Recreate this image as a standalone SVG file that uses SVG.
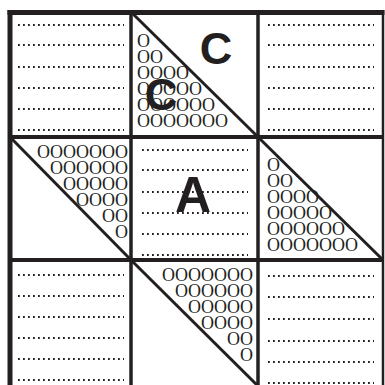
<svg xmlns="http://www.w3.org/2000/svg" width="385" height="385" viewBox="0 0 385 385">
<style>
.dot{stroke:#231f20;stroke-width:1.8;stroke-dasharray:1.8 3.2;fill:none}
.o{font-family:"Liberation Serif","Times New Roman",serif;font-size:18px;fill:#231f20}
.big{font-family:"Liberation Sans",Arial,sans-serif;font-weight:bold;fill:#231f20;text-anchor:middle}
.grid{stroke:#231f20;fill:none}
.diag{stroke:#231f20;stroke-width:3;fill:none}
</style>
<rect width="385" height="385" fill="#fff"/>
<g id="cell-r1c1">
<line class="dot" x1="18" y1="25" x2="124" y2="25"/>
<line class="dot" x1="18" y1="45" x2="124" y2="45"/>
<line class="dot" x1="18" y1="67" x2="124" y2="67"/>
<line class="dot" x1="18" y1="88" x2="124" y2="88"/>
<line class="dot" x1="18" y1="109" x2="124" y2="109"/>
<line class="dot" x1="18" y1="130" x2="124" y2="130"/>
</g>
<g id="cell-r1c2">
<text class="o" x="137" y="47">O</text>
<text class="o" x="137" y="63">OO</text>
<text class="o" x="137" y="79">OOOO</text>
<text class="o" x="137" y="95">OOOOO</text>
<text class="o" x="137" y="111">OOOOOO</text>
<text class="o" x="137" y="127">OOOOOOO</text>
<text class="big" x="216" y="64" font-size="45">C</text>
<text class="big" x="161" y="110" font-size="45">C</text>
</g>
<g id="cell-r1c3">
<line class="dot" x1="268" y1="25" x2="374" y2="25"/>
<line class="dot" x1="268" y1="45" x2="374" y2="45"/>
<line class="dot" x1="268" y1="67" x2="374" y2="67"/>
<line class="dot" x1="268" y1="88" x2="374" y2="88"/>
<line class="dot" x1="268" y1="109" x2="374" y2="109"/>
<line class="dot" x1="268" y1="130" x2="374" y2="130"/>
</g>
<g id="cell-r2c1">
<g text-anchor="end">
<text class="o" x="128" y="158">OOOOOOO</text>
<text class="o" x="128" y="174">OOOOOO</text>
<text class="o" x="128" y="190">OOOOO</text>
<text class="o" x="128" y="206">OOOO</text>
<text class="o" x="128" y="222">OO</text>
<text class="o" x="128" y="238">O</text>
</g>
</g>
<g id="cell-r2c2">
<line class="dot" x1="142" y1="150" x2="248" y2="150"/>
<line class="dot" x1="142" y1="170" x2="248" y2="170"/>
<line class="dot" x1="142" y1="192" x2="248" y2="192"/>
<line class="dot" x1="142" y1="213" x2="248" y2="213"/>
<line class="dot" x1="142" y1="234" x2="248" y2="234"/>
<line class="dot" x1="142" y1="255" x2="248" y2="255"/>
<text class="big" x="193" y="212" font-size="50">A</text>
</g>
<g id="cell-r2c3">
<text class="o" x="267" y="171">O</text>
<text class="o" x="267" y="187">OO</text>
<text class="o" x="267" y="203">OOOO</text>
<text class="o" x="267" y="219">OOOOO</text>
<text class="o" x="267" y="235">OOOOOO</text>
<text class="o" x="267" y="251">OOOOOOO</text>
</g>
<g id="cell-r3c1">
<line class="dot" x1="18" y1="275" x2="124" y2="275"/>
<line class="dot" x1="18" y1="296" x2="124" y2="296"/>
<line class="dot" x1="18" y1="317" x2="124" y2="317"/>
<line class="dot" x1="18" y1="338" x2="124" y2="338"/>
<line class="dot" x1="18" y1="359" x2="124" y2="359"/>
<line class="dot" x1="18" y1="380" x2="124" y2="380"/>
</g>
<g id="cell-r3c2">
<g text-anchor="end">
<text class="o" x="253" y="281">OOOOOOO</text>
<text class="o" x="253" y="297">OOOOOO</text>
<text class="o" x="253" y="313">OOOOO</text>
<text class="o" x="253" y="329">OOOO</text>
<text class="o" x="253" y="345">OO</text>
<text class="o" x="253" y="361">O</text>
</g>
</g>
<g id="cell-r3c3">
<line class="dot" x1="268" y1="276" x2="374" y2="276"/>
<line class="dot" x1="268" y1="297" x2="374" y2="297"/>
<line class="dot" x1="268" y1="319" x2="374" y2="319"/>
<line class="dot" x1="268" y1="341" x2="374" y2="341"/>
<line class="dot" x1="268" y1="362" x2="374" y2="362"/>
<line class="dot" x1="268" y1="383" x2="374" y2="383"/>
</g>
<g id="connectors">
<line class="diag" x1="131" y1="12" x2="258" y2="137"/>
<line class="diag" x1="258" y1="137" x2="383" y2="260"/>
<line class="diag" x1="10" y1="137" x2="131" y2="260"/>
<line class="diag" x1="131" y1="260" x2="258" y2="386"/>
<line class="grid" stroke-width="3.5" x1="131" y1="10" x2="131" y2="385"/>
<line class="grid" stroke-width="3.5" x1="258" y1="10" x2="258" y2="385"/>
<line class="grid" stroke-width="2.5" x1="383" y1="10" x2="383" y2="385"/>
<line class="grid" stroke-width="4" x1="8" y1="137" x2="384" y2="137"/>
<line class="grid" stroke-width="4" x1="8" y1="260" x2="384" y2="260"/>
<line class="grid" stroke-width="5" x1="7.5" y1="12.5" x2="384.5" y2="12.5"/>
<line class="grid" stroke-width="5" x1="10" y1="10" x2="10" y2="385"/>
</g>
</svg>
